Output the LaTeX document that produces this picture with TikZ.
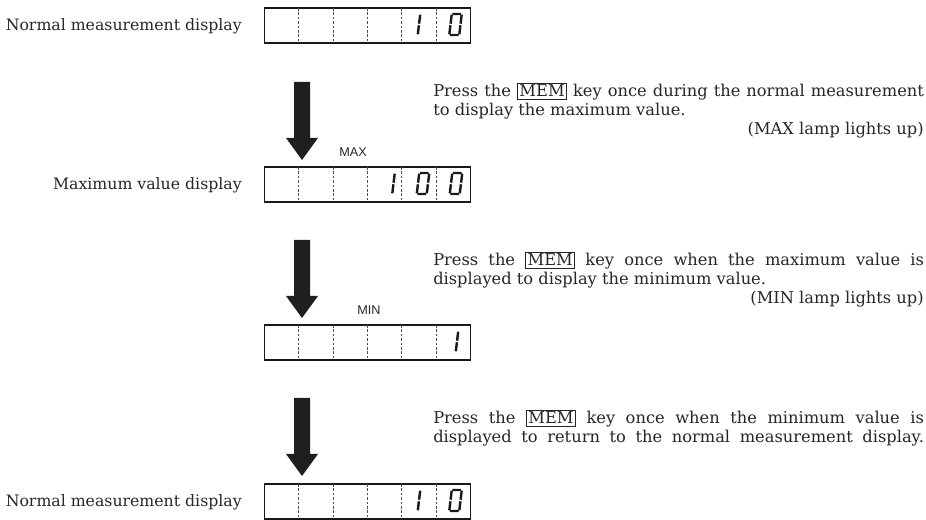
\documentclass[tikz,border=0pt]{standalone}
\usepackage{fontspec}
\setmainfont{DejaVu Serif}
\newfontfamily\lampfont{Liberation Sans}
\usetikzlibrary{calc}
\setlength{\fboxsep}{1.2pt}
\setlength{\fboxrule}{0.6pt}
\newcommand{\memkey}{\fbox{MEM}}
\newcommand{\fullline}[1]{\makebox[368pt][s]{#1}}
\begin{document}
\begin{tikzpicture}[x=0.75pt,y=-0.75pt,
  dispbox/.style={draw=black!90, line width=1pt, minimum width=154.5pt, minimum height=26.25pt, inner sep=0pt, outer sep=0pt, anchor=north west},
  cellline/.style={draw=black!70, line width=0.7pt, dash pattern=on 2pt off 1.3pt},
  seg/.style={line width=1.8pt, draw=black!90},
  leftlabel/.style={anchor=base east, inner sep=0pt, text=black!85, font=\fontsize{11.8}{14}\selectfont},
  descl/.style={anchor=base west, inner sep=0pt, text=black!85, font=\fontsize{12.2}{14}\selectfont},
  descr/.style={anchor=base east, inner sep=0pt, text=black!85, font=\fontsize{12.2}{14}\selectfont},
  lamp/.style={inner sep=0pt, text=black!85, font=\lampfont\fontsize{9.5}{11}\selectfont},
  bigarrow/.style={fill=black!88},
  digitzero/.pic={\draw[seg] (-4.3,-10.5) -- (4.3,-10.5) (-5,-9.8) -- (-5,-0.8) (5,-9.8) -- (5,-0.8)
                        (-5,0.8) -- (-5,9.8) (5,0.8) -- (5,9.8) (-4.3,10.5) -- (4.3,10.5);},
  digitone/.pic={\draw[seg] (5,-9.8) -- (5,-0.8) (5,0.8) -- (5,9.8);},
  downarrow/.pic={\fill[bigarrow] (-8,-78) -- (8,-78) -- (8,-22) -- (16,-22) -- (0,0) -- (-16,-22) -- (-8,-22) -- cycle;}
]
\useasboundingbox (0,0) rectangle (926,520);

% display boxes
\node[dispbox] (d1) at (264.5,8) {};
\node[dispbox] (d2) at (264.5,167) {};
\node[dispbox] (d3) at (264.5,325) {};
\node[dispbox] (d4) at (264.5,484) {};
\foreach \d in {d1,d2,d3,d4}{
  \foreach \k in {1,...,5}{
    \draw[cellline] ($(\d.north west)!\k/6!(\d.north east)$) -- ($(\d.south west)!\k/6!(\d.south east)$);
  }
}

% digits
\pic[xslant=0.12] at (414,24.5) {digitone};
\pic[xslant=0.12] at (455.5,24.5) {digitzero};
\pic[xslant=0.12] at (388.5,183.5) {digitone};
\pic[xslant=0.12] at (423,183.5) {digitzero};
\pic[xslant=0.12] at (456,183.5) {digitzero};
\pic[xslant=0.12] at (452,341.5) {digitone};
\pic[xslant=0.12] at (414,500.5) {digitone};
\pic[xslant=0.12] at (455.5,500.5) {digitzero};

% left labels
\node[leftlabel] (l1) at (242,31) {Normal measurement display};
\node[leftlabel] (l2) at (242,190) {Maximum value display};
\node[leftlabel] (l4) at (242,507) {Normal measurement display};

% lamp labels
\node[lamp] (lmax) at (353,152) {MAX};
\node[lamp] (lmin) at (369,310) {MIN};

% arrows
\pic at (302,160) {downarrow};
\pic at (302,318) {downarrow};
\pic at (302,476) {downarrow};

% descriptions
\node[descl] (t1a) at (433,97) {\fullline{Press the \memkey{} key once during the normal measurement}};
\node[descl] (t1b) at (433,116) {to display the maximum value.};
\node[descr] (t1c) at (924,135) {(MAX lamp lights up)};
\node[descl] (t2a) at (433,266) {\fullline{Press the \memkey{} key once when the maximum value is}};
\node[descl] (t2b) at (433,285) {displayed to display the minimum value.};
\node[descr] (t2c) at (924,304) {(MIN lamp lights up)};
\node[descl] (t3a) at (433,424) {\fullline{Press the \memkey{} key once when the minimum value is}};
\node[descl] (t3b) at (433,443) {\fullline{displayed to return to the normal measurement display.}};
\end{tikzpicture}
\end{document}
